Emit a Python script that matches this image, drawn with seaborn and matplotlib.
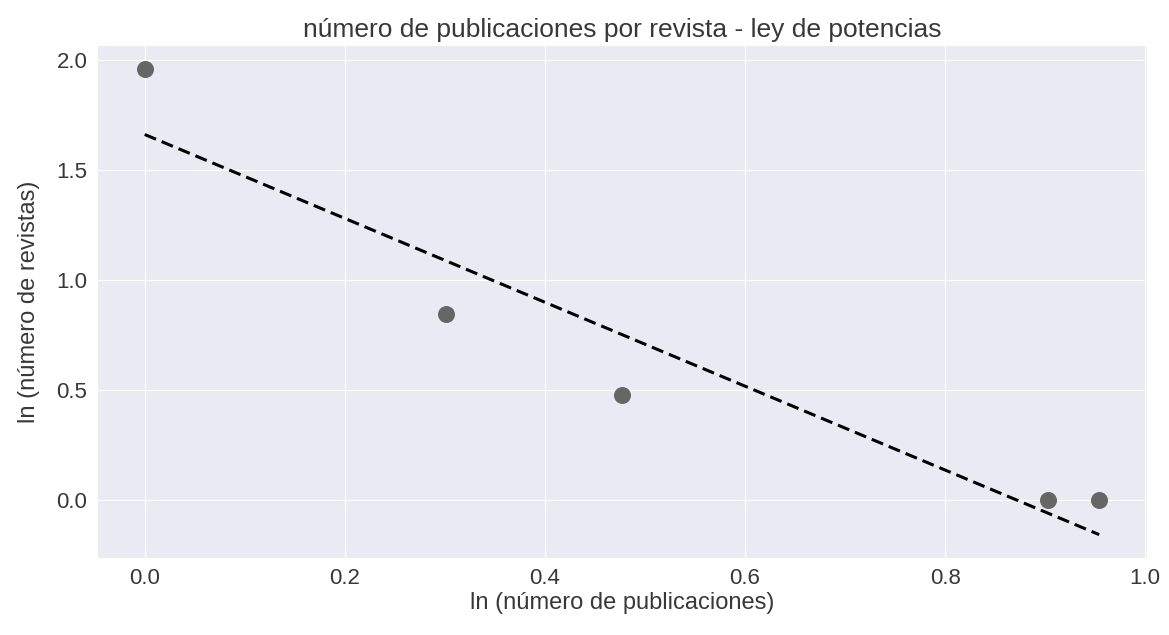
import numpy as np
import pandas as pd
import matplotlib
matplotlib.use("Agg")
import matplotlib.pyplot as plt
import seaborn as sns

# data (log10 values)
x_vals = [0.0, 0.301, 0.477, 0.903, 0.954]
y_vals = [1.959, 0.845, 0.477, 0.0, 0.0]
title = "número de publicaciones por revista - ley de potencias"
xlabel = "ln (número de publicaciones)"
ylabel = "ln (número de revistas)"

sns.set_style("darkgrid", {"grid.linewidth": 1.8})
plt.rcParams['font.family'] = ['Liberation Sans', 'DejaVu Sans']

df = pd.DataFrame({"x": x_vals, "y": y_vals})

fig = plt.figure(figsize=(11.69, 6.35), dpi=100)
ax = fig.add_axes([97/1169, 1-558/635, (1147-97)/1169, (558-45)/635])

sns.regplot(data=df, x="x", y="y", ci=None, ax=ax,
            scatter_kws=dict(s=150, color="#666666", alpha=1, linewidths=0),
            line_kws=dict(color="black", linestyle="--", linewidth=2.2, dashes=(4, 2)))

tc = "#383838"
ax.set_title(title, fontsize=19, color=tc, pad=6)
ax.set_xlabel(xlabel, fontsize=17, color=tc, labelpad=2)
ax.set_ylabel(ylabel, fontsize=17, color=tc, labelpad=12)
ax.tick_params(labelsize=16, colors=tc)
ax.set_xticks([0.0, 0.2, 0.4, 0.6, 0.8, 1.0])
ax.set_yticks([0.0, 0.5, 1.0, 1.5, 2.0])
ax.set_xlim(-0.0477, 1.0018)
ax.set_ylim(-0.263, 2.066)

fig.savefig("out.png", dpi=100)
